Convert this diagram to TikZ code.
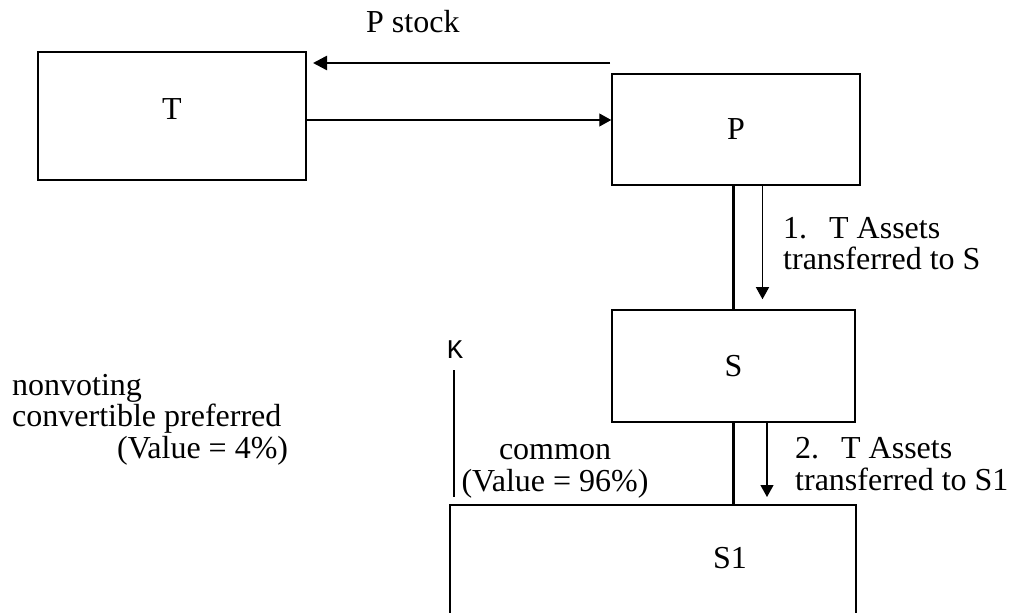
\documentclass[tikz,border=0pt]{standalone}
\usepackage{fontspec}
\setmainfont{Liberation Serif}
\setmonofont{Liberation Mono}
\usetikzlibrary{arrows.meta}
\usetikzlibrary{calc}
\definecolor{boxColor}{HTML}{000000}
\definecolor{linkColor}{HTML}{000000}
\definecolor{labelTextColor}{HTML}{000000}
\tikzset{
  entity/.style={draw=boxColor, line width=1.5bp, inner sep=0pt},
  flow/.style={draw=linkColor, line width=1.2bp, -{Triangle[length=12bp,width=13bp]}},
  flowThick/.style={draw=linkColor, line width=2.5bp, -{Triangle[length=14bp,width=14bp]}},
  link/.style={draw=linkColor, line width=2.5bp},
  tag/.style={text=labelTextColor, inner sep=0pt, align=left}
}

\begin{document}
\begin{tikzpicture}[x=1bp,y=-1bp, font=\fontsize{32bp}{31.5bp}\selectfont]
\useasboundingbox (0,0) rectangle (1010,613);
\clip (0,0) rectangle (1010,613);

% boxes
\begin{scope}
\node[entity, minimum width=268bp, minimum height=128bp] (T) at (172,116) {};
\node[tag, anchor=base] (Tlabel) at (172,120) {T};
\node[entity, minimum width=248bp, minimum height=111bp] (P) at (736,129.5) {P};
\node[entity, minimum width=243bp, minimum height=112bp] (S) at (733.5,366) {S};
\node[entity, minimum width=406bp, minimum height=200bp, anchor=north west] (S1box) at (449,504) {};
\node[tag, anchor=base] (S1) at (730,568) {S1};
\end{scope}

% link layer
\begin{scope}
\coordinate (stockStart) at (610,63);
\coordinate (stockEnd) at (313,63);
\coordinate (buyLevel) at (0,120);
\draw[flowThick] (stockStart) -- (stockEnd);
\draw[flow] (T.east |- buyLevel) -- (P.west |- buyLevel);
\draw[link] (P.south -| S.north) -- (S.north);
\draw[flow] ($(P.south -| S.north)+(29,0)$) -- ($(S.north)+(29,-10)$);
\draw[link] (S.south) -- (S.south |- S1box.north);
\draw[flow] ($(S.south)+(33.5,0)$) -- ($(S.south |- S1box.north)+(33.5,-7)$);
\end{scope}

% label layer (base = last line)
\begin{scope}
\node[tag, anchor=base west] (stockText) at (366,33) {P stock};
\node[tag, anchor=base west] (stepOne) at (783,270) {1.\hspace{22bp}T Assets\\transferred to S};
\node[tag, anchor=base west] (stepTwo) at (795,490) {2.\hspace{22bp}T Assets\\transferred to S1};
\node[tag, align=center, anchor=base] (commonText) at (555,491) {common\\(Value = 96\%)};
\node[tag, anchor=base west] (prefText) at (12,458) {nonvoting\\convertible preferred\\\hspace*{105bp}(Value = 4\%)};
\node[tag, anchor=base, font=\fontsize{27bp}{27bp}\ttfamily] (K) at (455,358) {K};
\draw[draw=linkColor, line width=1.2bp] ($(K.base)+(-1,12)$) -- ($(K.base |- S1box.north)+(-1,-7)$);
\end{scope}

\end{tikzpicture}
\end{document}
